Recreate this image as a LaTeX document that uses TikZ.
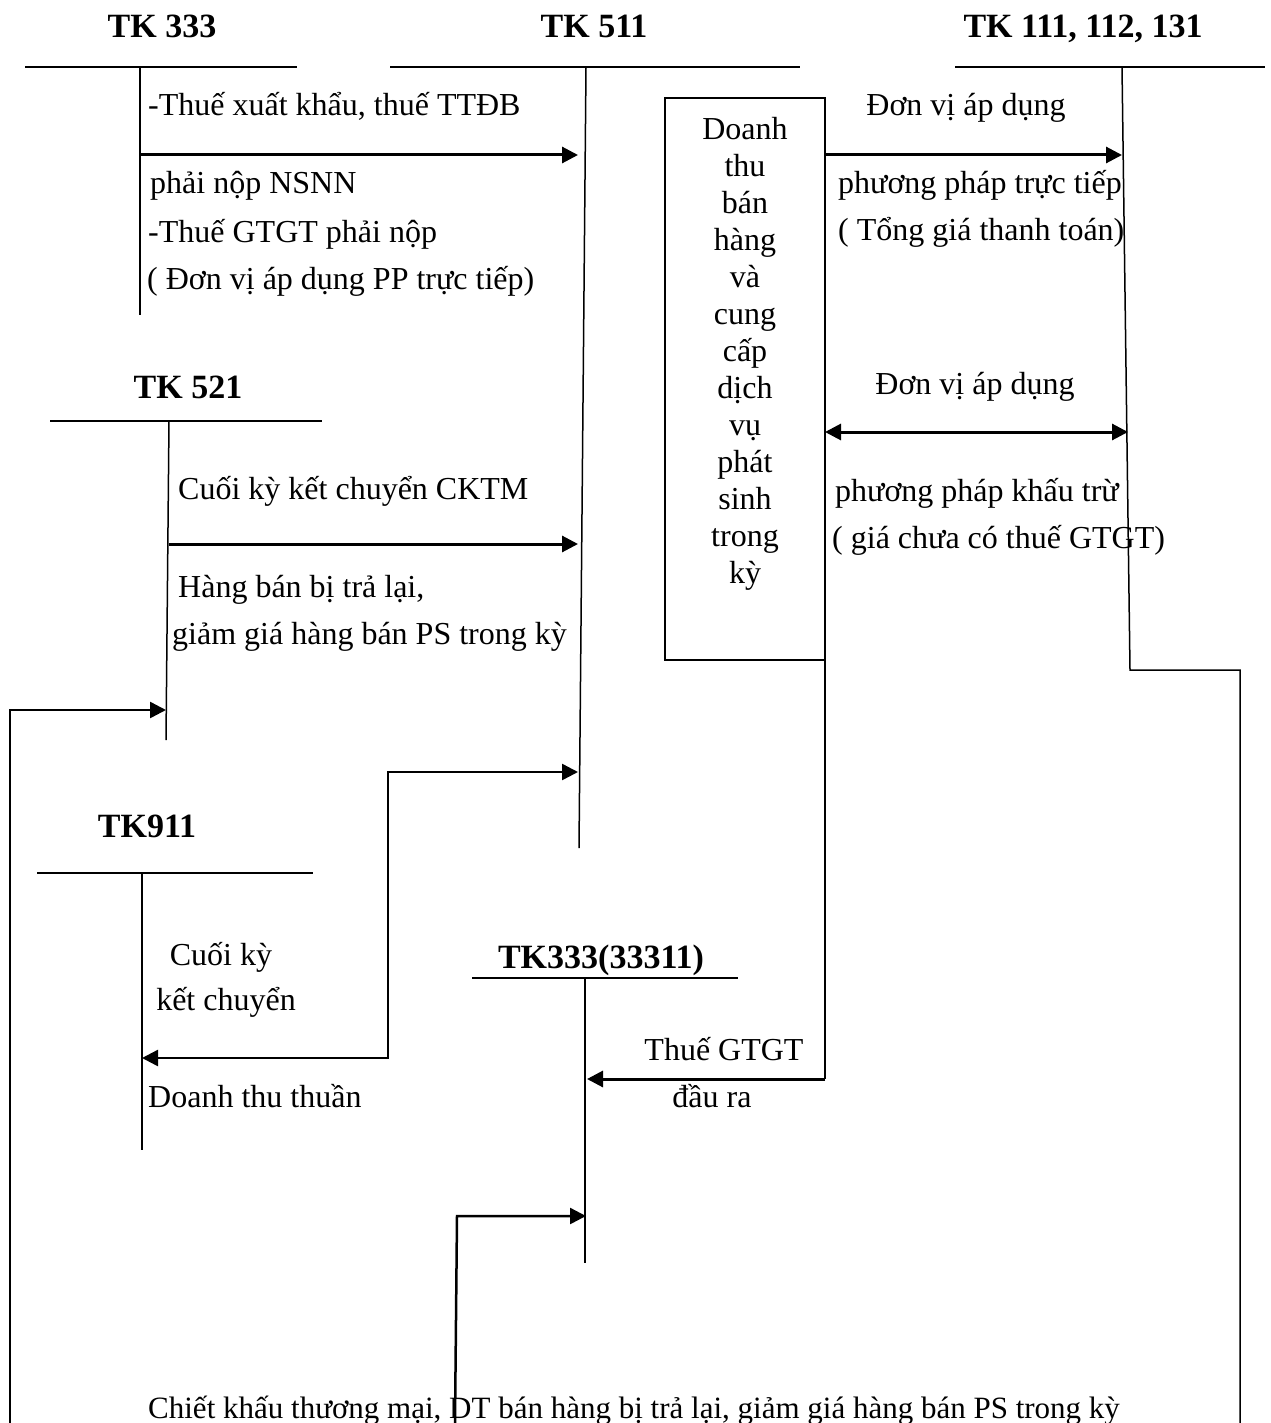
\documentclass[tikz,border=0pt]{standalone}
\usepackage{fontspec}
\setmainfont{Liberation Serif}
\usetikzlibrary{arrows.meta}
\begin{document}
\begin{tikzpicture}[x=1pt,y=-1pt,
  acct/.style={line width=2pt},
  vline/.style={line width=1.5pt},
  tipA/.tip={Triangle[length=16pt,width=16pt]},
  arr/.style={line width=3pt,-tipA},
  darr/.style={line width=3pt,tipA-tipA},
  lbl/.style={font=\fontsize{32}{36}\selectfont,inner sep=0pt,text height=22pt,text depth=7pt},
  ttl/.style={font=\bfseries\fontsize{34}{40}\selectfont,inner sep=0pt,anchor=base},
  boxtxt/.style={font=\fontsize{32}{37}\selectfont,inner sep=0pt,align=center}]
\useasboundingbox[fill=white] (0,0) rectangle (1270,1423);

% ---- TK 333
\node[ttl] (t333) at (162,38) {TK 333};
\coordinate (a333L) at (25,67); \coordinate (a333R) at (297,67);
\coordinate (a333T) at (140,67); \coordinate (a333B) at (140,315);
\draw[acct] (a333L) -- (a333R);
\draw[vline] (a333T) -- (a333B);

% ---- TK 511
\node[ttl] (t511) at (594,38) {TK 511};
\coordinate (a511L) at (390,67); \coordinate (a511R) at (800,67);
\coordinate (a511T) at (586,67); \coordinate (a511B) at (579,848);
\draw[acct] (a511L) -- (a511R);
\draw[vline] (a511T) -- (a511B);

% ---- TK 111, 112, 131
\node[ttl] (t111) at (1083,38) {TK 111, 112, 131};
\coordinate (a111L) at (955,67); \coordinate (a111R) at (1265,67);
\coordinate (a111T) at (1122,67); \coordinate (a111B) at (1130,670);
\coordinate (a111C) at (1240,670); \coordinate (a111D) at (1240,1423);
\draw[acct] (a111L) -- (a111R);
\draw[vline] (a111T) -- (a111B) -- (a111C) -- (a111D);

% ---- box
\node[draw,line width=2pt,minimum width=160pt,minimum height=562pt,inner sep=0pt] (box) at (745,379) {};
\node[boxtxt] (boxt) at (745,354) {Doanh\\thu\\bán\\hàng\\và\\cung\\cấp\\dịch\\vụ\\phát\\sinh\\trong\\kỳ};

% ---- TK 521
\node[ttl] (t521) at (188,398) {TK 521};
\coordinate (a521L) at (50,421); \coordinate (a521R) at (322,421);
\coordinate (a521T) at (169,421); \coordinate (a521B) at (166,740);
\draw[acct] (a521L) -- (a521R);
\draw[vline] (a521T) -- (a521B);

% ---- TK911
\node[ttl] (t911) at (147,837) {TK911};
\coordinate (a911L) at (37,873); \coordinate (a911R) at (313,873);
\coordinate (a911T) at (142,873); \coordinate (a911B) at (142,1150);
\draw[acct] (a911L) -- (a911R);
\draw[vline] (a911T) -- (a911B);

% ---- TK333(33311)
\node[ttl] (t3331) at (601,968) {TK333(33311)};
\coordinate (a3331L) at (472,978); \coordinate (a3331R) at (738,978);
\coordinate (a3331T) at (585,978); \coordinate (a3331B) at (585,1263);
\draw[acct] (a3331L) -- (a3331R);
\draw[vline] (a3331T) -- (a3331B);

% ---- connectors
\coordinate (e1s) at (140,155); \coordinate (e1e) at (578,155);
\draw[arr] (e1s) -- (e1e);

\coordinate (e2s) at (825,155); \coordinate (e2e) at (1122,155);
\draw[arr] (e2s) -- (e2e);

\coordinate (e3s) at (825,432); \coordinate (e3e) at (1128,432);
\draw[darr] (e3s) -- (e3e);

\coordinate (e4s) at (169,544); \coordinate (e4e) at (578,544);
\draw[arr] (e4s) -- (e4e);

\coordinate (e5s) at (10,1423); \coordinate (e5m) at (10,710); \coordinate (e5e) at (166,710);
\draw[line width=2.5pt,-tipA] (e5s) -- (e5m) -- (e5e);

\coordinate (e6a) at (142,1058); \coordinate (e6b) at (388,1058);
\coordinate (e6c) at (388,772); \coordinate (e6d) at (578,772);
\draw[line width=2.5pt,tipA-tipA] (e6a) -- (e6b) -- (e6c) -- (e6d);

\coordinate (e7s) at (825,660); \coordinate (e7m) at (825,1079); \coordinate (e7e) at (587,1079);
\draw[line width=2pt] (e7s) -- (e7m);
\draw[arr] (e7m) -- (e7e);

\coordinate (e8s) at (455,1423); \coordinate (e8m) at (457,1216); \coordinate (e8e) at (586,1216);
\draw[line width=2.5pt,-tipA] (e8s) -- (e8m) -- (e8e);

% ---- labels
\node[lbl,anchor=west] (l1) at (148,108) {-Thuế xuất khẩu, thuế TTĐB};
\node[lbl,anchor=west] (l2) at (150,186) {phải nộp NSNN};
\node[lbl,anchor=west] (l3) at (148,235) {-Thuế GTGT phải nộp};
\node[lbl,anchor=west] (l4) at (147,282) {( Đơn vị áp dụng PP trực tiếp)};

\node[lbl] (l5) at (966,108) {Đơn vị áp dụng};
\node[lbl,anchor=west] (l6) at (838,186) {phương pháp trực tiếp};
\node[lbl,anchor=west] (l7) at (838,233) {( Tổng giá thanh toán)};

\node[lbl] (l8) at (975,387) {Đơn vị áp dụng};
\node[lbl,anchor=west] (l9) at (835,494) {phương pháp khấu trừ};
\node[lbl,anchor=west] (l10) at (832,541) {( giá chưa có thuế GTGT)};

\node[lbl,anchor=west] (l11) at (178,492) {Cuối kỳ kết chuyển CKTM};
\node[lbl,anchor=west] (l12) at (178,590) {Hàng bán bị trả lại,};
\node[lbl,anchor=west] (l13) at (172,637) {giảm giá hàng bán PS trong kỳ};

\node[lbl] (l14) at (221,958) {Cuối kỳ};
\node[lbl] (l15) at (226,1003) {kết chuyển};
\node[lbl,anchor=west] (l16) at (148,1100) {Doanh thu thuần};

\node[lbl] (l17) at (724,1053) {Thuế GTGT};
\node[lbl] (l18) at (712,1100) {đầu ra};

\node[font=\fontsize{31}{36}\selectfont,inner sep=0pt,anchor=base west] (l19) at (148,1418) {Chiết khấu thương mại, DT bán hàng bị trả lại, giảm giá hàng bán PS trong kỳ};
\end{tikzpicture}
\end{document}
